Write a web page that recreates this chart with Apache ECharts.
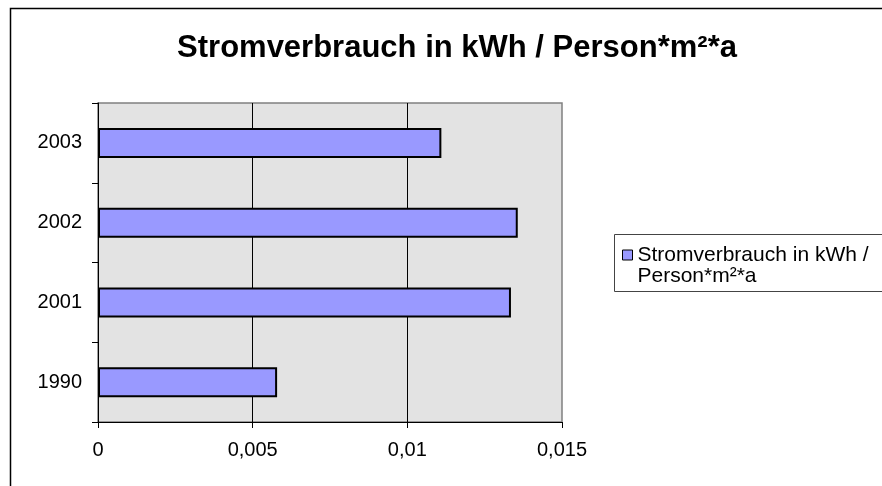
<!DOCTYPE html>
<html>
<head>
<meta charset="utf-8">
<script src="https://cdn.jsdelivr.net/npm/echarts@6/dist/echarts.min.js"></script>
<style>html,body{margin:0;padding:0;background:#fff;}#c{width:882px;height:486px;}</style>
</head>
<body>
<div id="c"></div>
<script>
const titleText = 'Stromverbrauch in kWh / Person*m²*a';
const seriesName = 'Stromverbrauch in kWh / Person*m²*a';
const categories = ['1990', '2001', '2002', '2003'];
const values = [0.00579, 0.01335, 0.01357, 0.01110];
const xTicks = [0, 0.005, 0.01, 0.015];

const FONT = "'Liberation Sans', Arial, sans-serif";
const chart = echarts.init(document.getElementById('c'), null, {renderer: 'canvas'});
chart.setOption({
  backgroundColor: '#ffffff',
  animation: false,
  title: {
    text: titleText,
    left: 452,
    top: 28,
    textAlign: 'center',
    textStyle: {fontFamily: FONT, fontSize: 31, fontWeight: 'bold', color: '#000'}
  },
  grid: {
    left: 98, right: 320, top: 103, bottom: 64,
    show: true, backgroundColor: '#e3e3e3', borderColor: '#808080', borderWidth: 1.5
  },
  legend: {
    left: 622,
    top: 223.5,
    padding: 0,
    icon: 'rect',
    itemWidth: 10,
    itemHeight: 10,
    itemGap: 5,
    itemStyle: {borderColor: '#000', borderWidth: 1},
    formatter: () => '\nStromverbrauch in kWh /\nPerson*m²*a',
    textStyle: {fontFamily: FONT, fontSize: 21, lineHeight: 21, color: '#000'},
    data: [seriesName]
  },
  xAxis: {
    type: 'value',
    min: xTicks[0],
    max: xTicks[xTicks.length - 1],
    interval: 0.005,
    axisLine: {show: true, onZero: false, lineStyle: {color: '#000', width: 1}},
    axisTick: {show: true, length: 6, lineStyle: {color: '#000'}},
    axisLabel: {
      margin: 18, fontFamily: FONT, fontSize: 20, color: '#000',
      formatter: v => String(+v.toFixed(4)).replace('.', ',')
    },
    splitLine: {show: true, showMinLine: false, showMaxLine: false, lineStyle: {color: '#000', width: 1}}
  },
  yAxis: {
    type: 'category',
    data: categories,
    axisLine: {show: true, lineStyle: {color: '#000', width: 1}},
    axisTick: {show: true, length: 6, lineStyle: {color: '#000'}},
    axisLabel: {margin: 16, fontFamily: FONT, fontSize: 20, color: '#000'},
    splitLine: {show: false}
  },
  series: [{
    name: seriesName,
    type: 'bar',
    data: values,
    barWidth: 30,
    itemStyle: {color: '#9999ff', borderColor: '#000', borderWidth: 2}
  }],
  graphic: [
    {type: 'rect', shape: {x: 10.5, y: 8.5, width: 900, height: 500}, style: {fill: 'none', stroke: '#000', lineWidth: 1.5}, z: -1},
    {type: 'rect', shape: {x: 614.5, y: 234.5, width: 300, height: 57}, style: {fill: 'none', stroke: '#444', lineWidth: 1}, z: 10}
  ]
});
</script>
</body>
</html>
